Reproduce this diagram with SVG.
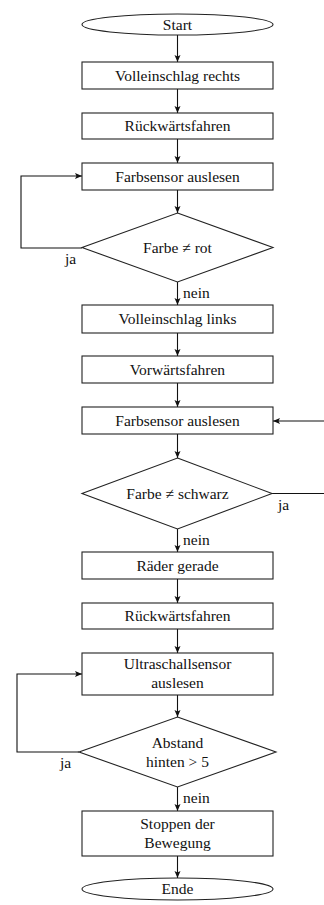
<svg xmlns="http://www.w3.org/2000/svg" width="324" height="905" viewBox="0 0 324 905">
<style>
.n{fill:#fff;stroke:#222;stroke-width:1.1}
.t{font-family:"Liberation Serif","Times New Roman",serif;font-size:15.5px;fill:#111;text-anchor:middle}
.l{font-family:"Liberation Serif","Times New Roman",serif;font-size:15.5px;fill:#111}
.c{fill:none;stroke:#111;stroke-width:1.1}
</style>
<defs>
<marker id="a" markerUnits="userSpaceOnUse" markerWidth="8" markerHeight="8" refX="7" refY="3" orient="auto">
<path d="M0,0 L7,3 L0,6 L1.5,3 z" fill="#111"/>
</marker>
</defs>
<rect width="324" height="905" fill="#fff"/>
<g id="connectors">
<line class="c" x1="177.5" y1="35" x2="177.5" y2="62" marker-end="url(#a)"/>
<line class="c" x1="177.5" y1="89" x2="177.5" y2="113" marker-end="url(#a)"/>
<line class="c" x1="177.5" y1="139" x2="177.5" y2="163" marker-end="url(#a)"/>
<line class="c" x1="177.5" y1="190" x2="177.5" y2="213" marker-end="url(#a)"/>
<polyline class="c" points="82,248 21,248 21,176 82,176" marker-end="url(#a)"/>
<line class="c" x1="177.5" y1="282" x2="177.5" y2="305" marker-end="url(#a)"/>
<line class="c" x1="177.5" y1="333" x2="177.5" y2="356" marker-end="url(#a)"/>
<line class="c" x1="177.5" y1="383" x2="177.5" y2="407" marker-end="url(#a)"/>
<line class="c" x1="324" y1="421" x2="273" y2="421" marker-end="url(#a)"/>
<line class="c" x1="177.5" y1="434" x2="177.5" y2="458" marker-end="url(#a)"/>
<line class="c" x1="272" y1="493.5" x2="324" y2="493.5"/>
<line class="c" x1="177.5" y1="529" x2="177.5" y2="552" marker-end="url(#a)"/>
<line class="c" x1="177.5" y1="579" x2="177.5" y2="603" marker-end="url(#a)"/>
<line class="c" x1="177.5" y1="629" x2="177.5" y2="653" marker-end="url(#a)"/>
<line class="c" x1="177.5" y1="695" x2="177.5" y2="717" marker-end="url(#a)"/>
<polyline class="c" points="79,752 17,752 17,674 82,674" marker-end="url(#a)"/>
<line class="c" x1="177.5" y1="787" x2="177.5" y2="811" marker-end="url(#a)"/>
<line class="c" x1="177.5" y1="856" x2="177.5" y2="878" marker-end="url(#a)"/>
<text class="l" x="65" y="264">ja</text>
<text class="l" x="183" y="298">nein</text>
<text class="l" x="278" y="510">ja</text>
<text class="l" x="183" y="545">nein</text>
<text class="l" x="60" y="768">ja</text>
<text class="l" x="183" y="803">nein</text>
</g>
<g id="start"><ellipse class="n" cx="177.5" cy="24.5" rx="95.5" ry="10.5"/><text class="t" x="177.5" y="29.5">Start</text></g>
<g id="b1"><rect class="n" x="82" y="62" width="191" height="27"/><text class="t" x="177.5" y="80.5">Volleinschlag rechts</text></g>
<g id="b2"><rect class="n" x="82" y="113" width="191" height="26"/><text class="t" x="177.5" y="131">Rückwärtsfahren</text></g>
<g id="b3"><rect class="n" x="82" y="163" width="191" height="27"/><text class="t" x="177.5" y="181.5">Farbsensor auslesen</text></g>
<g id="d1"><polygon class="n" points="177.5,213 273,247.5 177.5,282 82,247.5"/><text class="t" x="177.5" y="253">Farbe ≠ rot</text></g>
<g id="b4"><rect class="n" x="82" y="305" width="191" height="28"/><text class="t" x="177.5" y="324">Volleinschlag links</text></g>
<g id="b5"><rect class="n" x="82" y="356" width="191" height="27"/><text class="t" x="177.5" y="374.5">Vorwärtsfahren</text></g>
<g id="b6"><rect class="n" x="82" y="407" width="191" height="27"/><text class="t" x="177.5" y="425.5">Farbsensor auslesen</text></g>
<g id="d2"><polygon class="n" points="177.5,458 272,493.5 177.5,529 82,493.5"/><text class="t" x="177.5" y="499">Farbe ≠ schwarz</text></g>
<g id="b7"><rect class="n" x="82" y="552" width="191" height="27"/><text class="t" x="177.5" y="570.5">Räder gerade</text></g>
<g id="b8"><rect class="n" x="82" y="603" width="191" height="26"/><text class="t" x="177.5" y="621">Rückwärtsfahren</text></g>
<g id="b9"><rect class="n" x="82" y="653" width="191" height="42"/><text class="t" x="177.5" y="669">Ultraschallsensor</text><text class="t" x="177.5" y="688">auslesen</text></g>
<g id="d3"><polygon class="n" points="177.5,717 276,752 177.5,787 79,752"/><text class="t" x="177.5" y="748">Abstand</text><text class="t" x="177.5" y="767">hinten &gt; 5</text></g>
<g id="b10"><rect class="n" x="82" y="811" width="191" height="45"/><text class="t" x="177.5" y="829">Stoppen der</text><text class="t" x="177.5" y="848">Bewegung</text></g>
<g id="end"><ellipse class="n" cx="177.5" cy="889" rx="95.5" ry="11"/><text class="t" x="177.5" y="894">Ende</text></g>
</svg>
